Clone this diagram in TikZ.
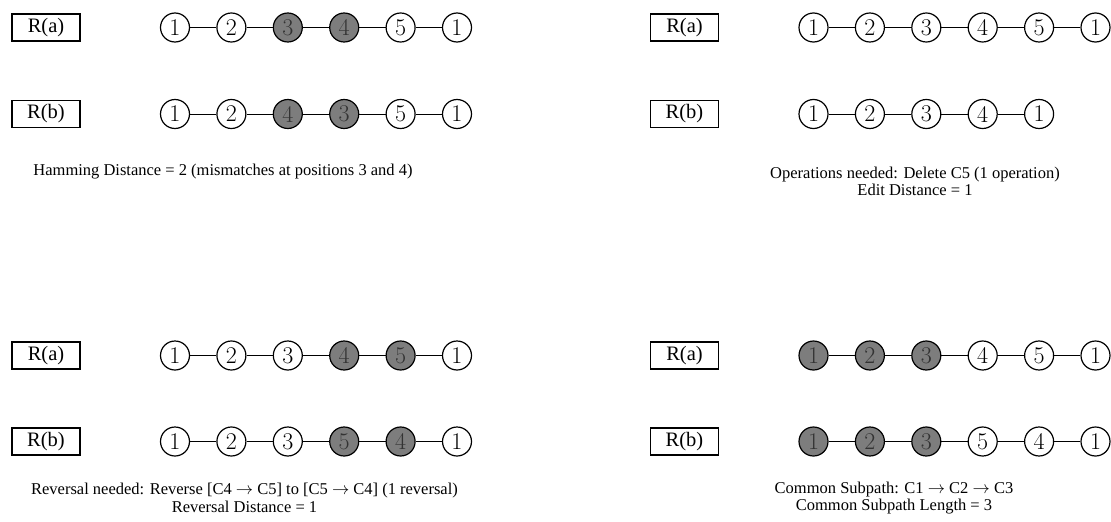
\documentclass[tikz,border=0pt]{standalone}
\usepackage{fontspec}
\setmainfont{Liberation Serif}
\newfontfamily\lmfont{Latin Modern Roman}
\tikzset{
  rowlabel/.style={draw, line width=1.2pt, minimum width=68pt, minimum height=27pt,
    inner sep=0pt, font=\fontsize{20.5}{22}\selectfont},
  cnode/.style={circle, draw, line width=1.2pt, minimum size=29pt, inner sep=0pt,
    font=\lmfont\fontsize{24}{24}\selectfont},
  hnode/.style={cnode, fill=nodegray, text=black!80},
  link/.style={line width=0.9pt},
  caption/.style={align=center, inner sep=0pt, font=\fontsize{16.5}{17.5}\selectfont}
}
\definecolor{nodegray}{RGB}{125,125,125}
% one route: label box, then a chain of cities joined by links
\newcommand\chainrow[5]{%
  \node[rowlabel] (#1lab) at (#2,#4) {#5};
  \foreach [count=\i] \lab/\sty in {#3} {
    \node[\sty] (#1\i) at ({#2+129+(\i-1)*56.4},#4) {\lab};
    \ifnum\i>1 \pgfmathtruncatemacro\prev{\i-1}\draw[link] (#1\prev) -- (#1\i);\fi
  }}
\begin{document}
\begin{tikzpicture}[x=1pt, y=-1pt]
\useasboundingbox (0,0) rectangle (1111,522);
% Hamming distance
\chainrow{ha}{46}{1/cnode,2/cnode,3/hnode,4/hnode,5/cnode,1/cnode}{27.5}{R(a)}
\chainrow{hb}{46}{1/cnode,2/cnode,4/hnode,3/hnode,5/cnode,1/cnode}{114}{R(b)}
\node[caption] (hcap) at (223,171.5) {Hamming Distance = 2 (mismatches at positions 3 and 4)};
% Edit distance
\chainrow{ea}{684.5}{1/cnode,2/cnode,3/cnode,4/cnode,5/cnode,1/cnode}{27.5}{R(a)}
\chainrow{eb}{684.5}{1/cnode,2/cnode,3/cnode,4/cnode,1/cnode}{114}{R(b)}
\node[caption] (ecap) at (915,181.5) {Operations needed: Delete C5 (1 operation)\\Edit Distance = 1};
% Reversal distance
\chainrow{ra}{46}{1/cnode,2/cnode,3/cnode,4/hnode,5/hnode,1/cnode}{355.5}{R(a)}
\chainrow{rb}{46}{1/cnode,2/cnode,3/cnode,5/hnode,4/hnode,1/cnode}{441.5}{R(b)}
\node[caption] (rcap) at (244.5,498) {Reversal needed: Reverse [C4 $\rightarrow$ C5] to [C5 $\rightarrow$ C4] (1 reversal)\\Reversal Distance = 1};
% Common subpath
\chainrow{ca}{684.5}{1/hnode,2/hnode,3/hnode,4/cnode,5/cnode,1/cnode}{355.5}{R(a)}
\chainrow{cb}{684.5}{1/hnode,2/hnode,3/hnode,5/cnode,4/cnode,1/cnode}{441.5}{R(b)}
\node[caption] (ccap) at (894,498) {Common Subpath: C1 $\rightarrow$ C2 $\rightarrow$ C3\\Common Subpath Length = 3};
\end{tikzpicture}
\end{document}
